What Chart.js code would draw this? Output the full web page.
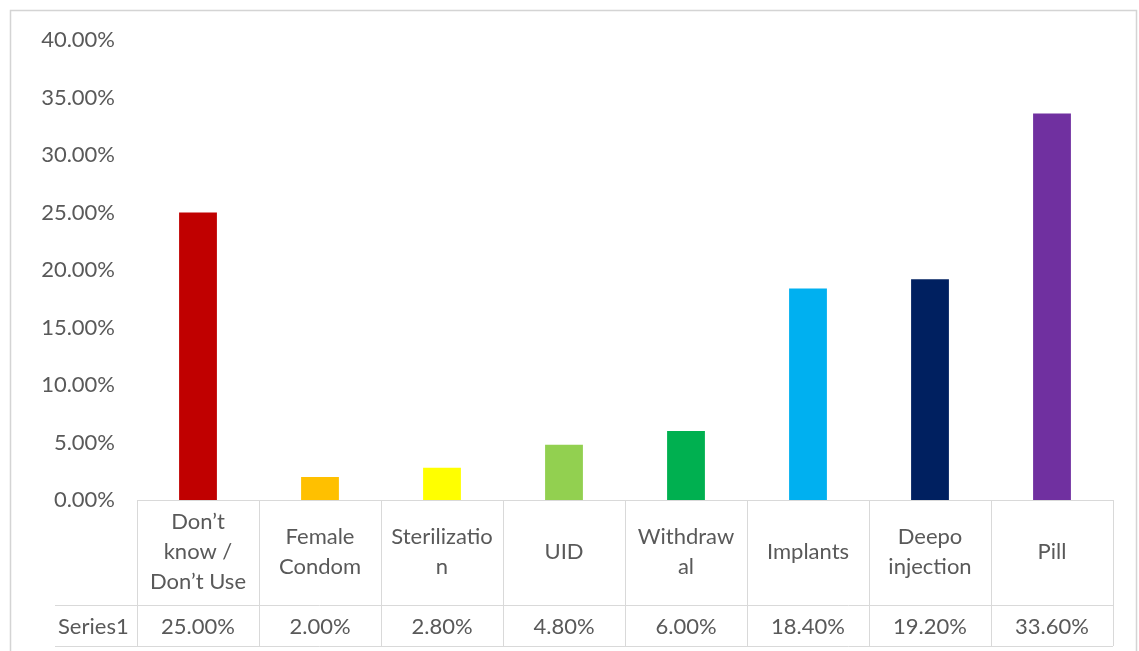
<!DOCTYPE html>
<html>
<head>
<meta charset="utf-8">
<script src="https://cdn.jsdelivr.net/npm/chart.js@4/dist/chart.umd.min.js"></script>
<style>
  html, body { margin: 0; padding: 0; background: #fff; }
  #wrap { width: 1139px; height: 651px; position: relative; }
</style>
</head>
<body>
<div id="wrap"><canvas id="c"></canvas></div>
<script>
const categories = [
  ["Don\u2019t", "know /", "Don\u2019t Use"],
  ["Female", "Condom"],
  ["Sterilizatio", "n"],
  ["UID"],
  ["Withdraw", "al"],
  ["Implants"],
  ["Deepo", "injection"],
  ["Pill"]
];
const seriesName = "Series1";
const values = [25.0, 2.0, 2.8, 4.8, 6.0, 18.4, 19.2, 33.6];
const barColors = ["#C00000", "#FFC000", "#FFFF00", "#92D050", "#00B050", "#00B0F0", "#002060", "#7030A0"];
const yTicks = [0, 5, 10, 15, 20, 25, 30, 35, 40];

const FONT = "Lato, 'Noto Sans', sans-serif";
const FSIZE = 22;
const TEXT = "#595959";
const LINE = "#d9d9d9";

const tablePlugin = {
  id: "dataTable",
  beforeDraw(chart) {
    const ctx = chart.ctx;
    ctx.save();
    ctx.fillStyle = "#fff";
    ctx.fillRect(0, 0, chart.width, chart.height);
    ctx.strokeStyle = "#d4d4d4";
    ctx.lineWidth = 1.5;
    ctx.beginPath();
    ctx.moveTo(10.5, 660);
    ctx.lineTo(10.5, 10.5);
    ctx.lineTo(1136.5, 10.5);
    ctx.lineTo(1136.5, 660);
    ctx.stroke();
    ctx.restore();
  },
  afterDraw(chart) {
    const ctx = chart.ctx;
    const x = chart.scales.x;
    const area = chart.chartArea;
    const n = categories.length;
    const colW = (area.right - area.left) / n;
    const top = area.bottom;
    const midY = top + 105;
    const botY = top + 146;
    const leftX = 55;
    ctx.save();
    ctx.strokeStyle = LINE;
    ctx.lineWidth = 1;
    ctx.beginPath();
    ctx.moveTo(area.left, top + 0.5);
    ctx.lineTo(area.right, top + 0.5);
    ctx.moveTo(leftX, midY + 0.5);
    ctx.lineTo(area.right, midY + 0.5);
    ctx.moveTo(leftX, botY + 0.5);
    ctx.lineTo(area.right, botY + 0.5);
    for (let i = 0; i <= n; i++) {
      const px = Math.round(area.left + i * colW) + 0.5;
      ctx.moveTo(px, top);
      ctx.lineTo(px, botY);
    }
    ctx.stroke();

    ctx.fillStyle = TEXT;
    ctx.font = FSIZE + "px " + FONT;
    ctx.textAlign = "center";
    ctx.textBaseline = "middle";
    const lh = 30;
    categories.forEach((lines, i) => {
      const cx = x.getPixelForValue(i);
      const cy = top + 52;
      const start = cy - (lines.length - 1) * lh / 2;
      lines.forEach((ln, j) => ctx.fillText(ln, cx, start + j * lh));
    });
    const rowY = (midY + botY) / 2 + 1;
    values.forEach((v, i) => {
      ctx.fillText(v.toFixed(2) + "%", x.getPixelForValue(i), rowY);
    });
    ctx.textAlign = "left";
    ctx.fillText(seriesName, 58, rowY);
    ctx.restore();
  }
};

new Chart(document.getElementById("c"), {
  type: "bar",
  data: {
    labels: categories.map(c => c.join(" ")),
    datasets: [{
      label: seriesName,
      data: values,
      backgroundColor: barColors,
      borderWidth: 0,
      barPercentage: 0.31,
      categoryPercentage: 1.0
    }]
  },
  options: {
    responsive: true,
    maintainAspectRatio: false,
    animation: false,
    layout: { padding: { top: 40, bottom: 151, left: 0, right: 26 } },
    plugins: { legend: { display: false }, tooltip: { enabled: false } },
    scales: {
      x: { display: false, offset: true },
      y: {
        min: yTicks[0],
        max: yTicks[yTicks.length - 1],
        afterFit(scale) { scale.width = 137; },
        afterBuildTicks(scale) { scale.ticks = yTicks.map(v => ({ value: v })); },
        border: { display: false },
        grid: { display: false, drawTicks: false },
        ticks: {
          padding: 22,
          color: TEXT,
          font: { family: FONT, size: FSIZE },
          callback: v => Number(v).toFixed(2) + "%"
        }
      }
    }
  },
  plugins: [tablePlugin]
});
</script>
</body>
</html>
